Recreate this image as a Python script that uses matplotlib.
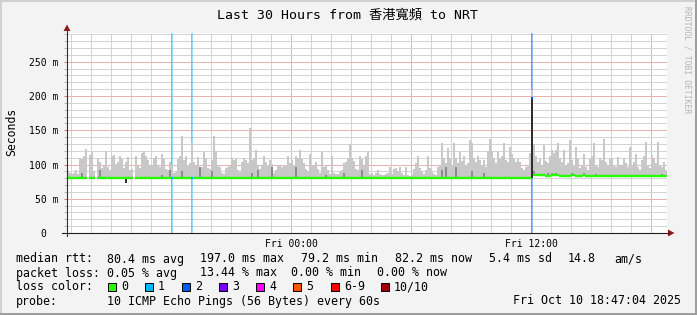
import numpy as np
import pandas as pd
import matplotlib
matplotlib.use('Agg')
import matplotlib.pyplot as plt
import matplotlib.dates as mdates
from matplotlib.patches import Rectangle, Polygon
from matplotlib.lines import Line2D

nan = np.nan

# ---------------- data ----------------
start_time = pd.Timestamp('2025-10-09 12:47:04')
end_time = pd.Timestamp('2025-10-10 18:47:04')
bin_minutes = 6

title = 'Last 30 Hours from 香港寬頻 to NRT'
y_label = 'Seconds'
watermark = 'RRDTOOL / TOBI OETIKER'

# upper edge of the smoke (ms), one value per 6-minute bin
smoke_max_ms = [
    90, 88, 86, 88, 92, 86, 110, 108, 112, 122, nan, 114, 118,
    90, nan, 110, 104, 95, 98,
    120, 97, 92, 112, 114, 101, 104,
    113, 108, 95, 103, 111, 92,
    94, nan, 113, 98, 95, 117,
    120, 112, 106, 98, 100, 110,
    112, 98, 96, 115, 108, 93,
    92, 103, 100, 88, 91, 108,
    112, 141, 106, 112, 100, 102,
    131, 104, 98, 111, 92, 96,
    118, 110, 95, 93, 106, 141,
    120,
    100, 96, 87, 86, 95, 96,
    98, 110, 106, 108, 92, 90,
    103, 110, 107, 102, 153, 106,
    110, 121, 100, 93, 98, 113,
    104, 100, 107, 101, 88, 92,
    100, 98, 97, 99, 100, 112,
    102, 106, 100, 112, 110, 121,
    108, 102, 94, 91, 115, 99,
    100, 104, 93, 87, 118, 96,
    99, 92, 86, 112, 87, 86,
    86, 89, 92, 102, 104, 108,
    129, 110, 105, 93, 92, 112,
    108, 98, 113,
    118, 86, 88, 85, 87, 92,
    86, 85, 84, 86, 87, 97,
    86, 93, 95, 90, 96, 87,
    85, 97, 84, 83, 86, 94,
    102, 112, 95, 90, 86, 92,
    112, 95, 90, 86, 84, 97,
    100, 131, 110, 102, 124, 110,
    98, 131, 110, 102, 118, 105,
    112, 100, 102, 136, 131, 110,
    104, 112, 107, 100, 106, 96,
    119, 137, 120, 110, 102, 118,
    108, 112, 131, 106, 104, 126,
    115, 108, 104,
    108, 104, 95, 92, 96, 100,
    117, 209, 130, 112, 104, 108,
    100, 128, 105, 102, 112, 121,
    117, 121, 131, 110, 104, 121,
    100, 102, 136, 106, 100, 126,
    108, 95, 100, 116, 96, 92,
    108, 112, 131, 100, 97, 110,
    106, 137, 104, 98, 108, 110,
    100, 97, 111, 100, 98, 110,
    102, 96, 125, 100, 104, 116,
    96, 92, 106, 112, 133, 100,
    95, 114, 110, 102, 133, 100,
    97, 104, 92,
]

# median rtt (ms), one value per 6-minute bin
median_ms = ([80.0] * 10 + [nan] + [80.0] * 3 + [nan] + [80.0] * 18 + [nan]
             + [80.0] * 118 + [79.6] * 80 + [197.0]
             + [84.0] * 6 + [82.5] * 3 + [84.5] * 4 + [82.5] * 6 + [84.0] * 2
             + [82.5] * 4 + [84.0] + [82.5] * 5 + [83.5] + [82.5] * 35)

# darker smoke (more pings) in some bins
dark_bins = [7, 16, 47, 51, 57, 66, 72, 92, 95, 102, 114, 129, 138, 147,
             187, 189, 194, 202, 208, 233, 240, 242, 244, 252, 258, 264, 297]
dark_top_ms = [87, 92, 85, 92, 90, 97, 90, 87, 92, 97, 97, 85, 87, 92,
               92, 97, 97, 90, 87, 90, 88, 87, 88, 88, 87, 86, 86]

# nearly black smoke (all pings in the same range)
black_bins = [29, 232]
black_low_ms = [72.5, 80.5]
black_top_ms = [79.0, 197.0]

# packet loss (pings lost of 10)
loss_bins = [52, 62, 232]
loss_pings = [1, 1, 2]

loss_labels = ['0', '1', '2', '3', '4', '5', '6-9', '10/10']
loss_colors = ['#26ff00', '#00b8ff', '#0059ff', '#7e00ff', '#ff00ff',
               '#ff5500', '#ff0000', '#a10000']

ytick_values = [0, 50, 100, 150, 200, 250]
ytick_labels = ['0  ', '50 m', '100 m', '150 m', '200 m', '250 m']
xtick_times = [pd.Timestamp('2025-10-10 00:00'), pd.Timestamp('2025-10-10 12:00')]
xtick_labels = ['Fri 00:00', 'Fri 12:00']

rtt_label = 'median rtt:'
rtt_stats = ['80.4 ms avg', '197.0 ms max', '79.2 ms min', '82.2 ms now',
             '5.4 ms sd', '14.8', 'am/s']
loss_label = 'packet loss:'
loss_stats = ['0.05 % avg', '13.44 % max', '0.00 % min', '0.00 % now']
color_label = 'loss color:'
probe_label = 'probe:'
probe_text = '10 ICMP Echo Pings (56 Bytes) every 60s'
stamp_text = 'Fri Oct 10 18:47:04 2025'

# ---------------- figure ----------------
W, H = 697, 315
fig = plt.figure(figsize=(W / 100, H / 100), dpi=100)
fig.patch.set_facecolor('#f3f3f3')
L, R, T, B = 67, 667, 33, 233
ax = fig.add_axes([L / W, 1 - B / H, (R - L) / W, (B - T) / H])
ax.set_facecolor('white')
for s in ax.spines.values():
    s.set_visible(False)

def fx(x):
    return x / W

def fy(y):
    return 1 - y / H

mono = 'DejaVu Sans Mono'
n = len(smoke_max_ms)
edges = pd.date_range(start_time, periods=n + 1, freq=f'{bin_minutes}min')
t = mdates.date2num(edges.to_pydatetime())
width = bin_minutes / 1440.0
tl = t[:-1]
smoke = np.array(smoke_max_ms, float)
med = np.array(median_ms, float)

t0 = mdates.date2num(start_time.to_pydatetime())
t1 = mdates.date2num(end_time.to_pydatetime())
ymax = 292
ax.set_xlim(t0, t1)
ax.set_ylim(0, ymax)

# grid (dotted)
minor_c, major_c = '#d4d4d4', '#ebb2b2'
hours = pd.date_range(start_time.ceil('h'), end_time, freq='h')
for h in hours:
    major = h.hour % 6 == 0
    ax.axvline(mdates.date2num(h.to_pydatetime()), color=major_c if major else minor_c,
               lw=0.72, ls=(0, (1, 1)), zorder=0.5, antialiased=False)
for v in range(10, ymax, 10):
    major = v % 50 == 0
    ax.axhline(v, color=major_c if major else minor_c, lw=0.72, ls=(0, (1, 1)),
               zorder=0.5, antialiased=False)

# loss bars
for b, k in zip(loss_bins, loss_pings):
    ax.axvspan(tl[b], tl[b] + width, color=loss_colors[k], alpha=0.4, lw=0, zorder=1)

# smoke
ok = ~np.isnan(med) & ~np.isnan(smoke)
ax.bar(tl[ok], smoke[ok] - med[ok], width=width, bottom=med[ok], align='edge',
       color='#c8c8c8', linewidth=0, zorder=2)
db = np.array(dark_bins)
ax.bar(tl[db], np.array(dark_top_ms) - med[db], width=width, bottom=med[db], align='edge',
       color='#8c8c8c', linewidth=0, zorder=2.5)
bb = np.array(black_bins)
ax.bar(tl[bb], np.array(black_top_ms) - np.array(black_low_ms), width=width,
       bottom=np.array(black_low_ms), align='edge', color='#2e2e2e', linewidth=0, zorder=2.6)

# median line coloured by loss
loss_arr = np.zeros(n, int)
for b, k in zip(loss_bins, loss_pings):
    loss_arr[b] = k
for k in sorted(set(loss_arr)):
    m = (loss_arr == k) & ~np.isnan(med)
    ax.hlines(med[m], tl[m], tl[m] + width, colors=loss_colors[k], lw=1.7,
              zorder=3, capstyle='butt')

# ticks
ax.set_yticks(ytick_values)
ax.set_yticklabels(ytick_labels, family=mono, fontsize=7)
ax.set_yticks(list(range(10, ymax, 10)), minor=True)
ax.tick_params(axis='y', which='major', length=2, width=0.72, color='#c08080', pad=4.3)
ax.tick_params(axis='y', which='minor', length=2, width=0.72, color='#bbbbbb')
ax.set_xticks([mdates.date2num(x.to_pydatetime()) for x in xtick_times])
ax.set_xticklabels(xtick_labels, family=mono, fontsize=7)
ax.tick_params(axis='x', which='both', length=0, pad=4)

# axes lines and arrows
fig.add_artist(Line2D([fx(L), fx(L)], [fy(236), fy(31)], transform=fig.transFigure,
                      color='#303030', lw=0.8))
fig.add_artist(Line2D([fx(62), fx(669)], [fy(B), fy(B)], transform=fig.transFigure,
                      color='#202020', lw=0.8))
fig.add_artist(Polygon([[fx(63.5), fy(31)], [fx(70.5), fy(31)], [fx(67), fy(24.5)]],
                       closed=True, transform=fig.transFigure, color='#8b1c1c', lw=0))
fig.add_artist(Polygon([[fx(668), fy(229.5)], [fx(668), fy(236.5)], [fx(674.5), fy(233)]],
                       closed=True, transform=fig.transFigure, color='#8b1c1c', lw=0))

# frame
fig.add_artist(Rectangle((0, fy(2)), 1, 2 / H, transform=fig.transFigure, color='#d0d0d0', lw=0))
fig.add_artist(Rectangle((0, 0), 2 / W, 1, transform=fig.transFigure, color='#d0d0d0', lw=0))
fig.add_artist(Rectangle((0, 0), 1, 2 / H, transform=fig.transFigure, color='#9e9e9e', lw=0))
fig.add_artist(Rectangle((fx(W - 2), 0), 2 / W, 1, transform=fig.transFigure, color='#9e9e9e', lw=0))

# texts
fig.text(fx(347.5), fy(15), title, ha='center', va='center', fontsize=9.5,
         family=[mono, 'Noto Sans CJK TC'])
fig.text(fx(11.5), fy(132), y_label, rotation=90, ha='center', va='center',
         fontsize=8.3, family=mono)
fig.text(fx(687.5), fy(60), watermark, rotation=270, ha='center', va='center',
         fontsize=5.8, family=mono, color='#b4b4b4')

LF = 8.4
rows_y = [259, 273, 287, 301]
fig.text(fx(16), fy(rows_y[0]), rtt_label, va='center', fontsize=LF, family=mono)
for x, s in zip([107, 200, 301, 395, 489, 568, 614], rtt_stats):
    fig.text(fx(x), fy(rows_y[0]), s, va='center', fontsize=LF, family=mono)
fig.text(fx(16), fy(rows_y[1]), loss_label, va='center', fontsize=LF, family=mono)
for x, s in zip([107, 200, 291, 377], loss_stats):
    fig.text(fx(x), fy(rows_y[1]), s, va='center', fontsize=LF, family=mono)
fig.text(fx(16), fy(rows_y[2]), color_label, va='center', fontsize=LF, family=mono)
for x0, lbl, col in zip([108, 145, 182, 219, 256, 293, 331, 381], loss_labels, loss_colors):
    fig.add_artist(Rectangle((fx(x0), fy(rows_y[2] + 4)), 8 / W, 8 / H,
                             transform=fig.transFigure, facecolor=col,
                             edgecolor='black', lw=0.7))
    fig.text(fx(x0 + 13), fy(rows_y[2]), lbl, va='center', fontsize=LF, family=mono)
fig.text(fx(16), fy(rows_y[3]), probe_label, va='center', fontsize=LF, family=mono)
fig.text(fx(107), fy(rows_y[3]), probe_text, va='center', fontsize=LF, family=mono)
fig.text(fx(681), fy(rows_y[3]), stamp_text, ha='right', va='center', fontsize=LF, family=mono)

fig.savefig('out.png', dpi=100, facecolor=fig.get_facecolor())
